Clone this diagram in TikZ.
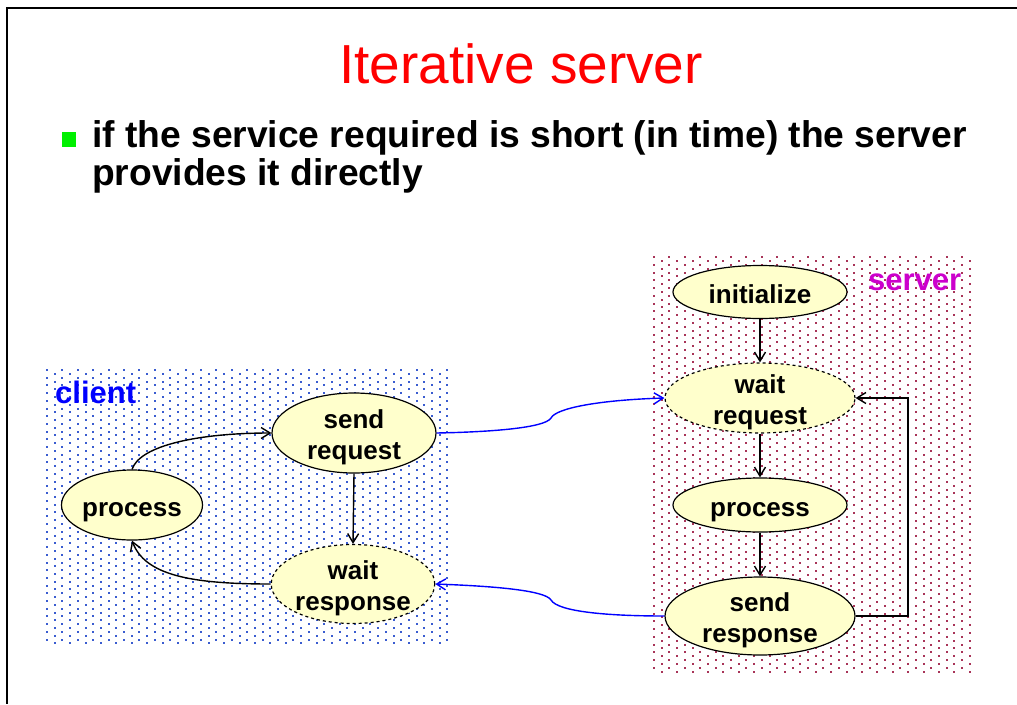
\documentclass[tikz,border=0pt]{standalone}
\usepackage{fontspec}
\setmainfont{Liberation Sans}
\usetikzlibrary{arrows.meta,shapes.geometric}
\definecolor{nodefill}{HTML}{FFFFCC}
\definecolor{clientdot}{HTML}{3A5CD0}
\definecolor{serverdot}{HTML}{A83458}
\definecolor{servertext}{HTML}{CC00CC}
\definecolor{bulletgreen}{HTML}{00F000}
% state label: centred lines, set a little low inside the ellipse;
% it reports no size, so each ellipse keeps exactly its minimum size
\newcommand{\statelabel}[1]{\raisebox{-11.5pt}[0pt][0pt]{%
  \begin{tabular}{@{}c@{}}#1\end{tabular}}}
\begin{document}
\begin{tikzpicture}[x=1pt,y=-1pt,
  state/.style={ellipse,draw=black,line width=1.2pt,fill=nodefill,inner sep=0pt,
    font=\fontsize{26}{31}\selectfont\bfseries},
  waitstate/.style={state,dashed},
  flow/.style={line width=1.4pt,-{Straight Barb[length=9pt,width=11pt]}},
  msg/.style={flow,draw=blue},
  tag/.style={font=\fontsize{31}{31}\selectfont\bfseries,anchor=base west,inner sep=0pt}]
\useasboundingbox (0,0) rectangle (1017,704);
% slide frame
\draw[line width=1.5pt] (1017,8) -- (7,8) -- (7,704);
% title and bullet
\node[anchor=base,text=red,font=\fontsize{55}{55}\selectfont,inner sep=0pt] (title) at (521,83) {Iterative server};
\fill[bulletgreen] (62,132) rectangle (76,147);
\node[anchor=base west,inner sep=0pt,align=left,font=\fontsize{37.2}{38}\selectfont\bfseries] (bullet) at (92,185)
  {if the service required is short (in time) the server\\provides it directly};
% dotted backgrounds (staggered dot lattice)
\foreach \i in {0,...,52}{\pgfmathsetmacro{\off}{mod(\i,2)*3.85}
  \foreach \j in {0,...,35}{
  \fill[clientdot] (46+\i*7.7,369+\off+\j*7.7) rectangle ++(2,2);}}
\foreach \i in {0,...,41}{\pgfmathsetmacro{\off}{mod(\i,2)*3.9}
  \foreach \j in {0,...,53}{
  \fill[serverdot] (653+\i*7.7,256+\off+\j*7.75) rectangle ++(2,2);}}
\node[tag,text=blue] (clientlbl) at (55,403) {client};
\node[tag,text=servertext] (serverlbl) at (868,290) {server};
% client states
\node[state,minimum width=139pt,minimum height=70pt] (cproc) at (132,505) {\statelabel{process}};
\node[state,minimum width=164pt,minimum height=80pt] (sreq) at (354,433) {\statelabel{send\\request}};
\node[waitstate,minimum width=155pt,minimum height=79pt] (wresp) at (353,584) {\statelabel{wait\\response}};
% server states
\node[state,minimum width=174pt,minimum height=53pt] (init) at (760,292) {\statelabel{initialize}};
\node[waitstate,minimum width=190pt,minimum height=70pt] (wreq) at (760,398) {\statelabel{wait\\request}};
\node[state,minimum width=174pt,minimum height=54pt] (sproc) at (760,505) {\statelabel{process}};
\node[state,minimum width=190pt,minimum height=78pt] (sresp) at (760,616) {\statelabel{send\\response}};
% client transitions
\draw[flow] (cproc.north) .. controls (140,445) and (200,433) .. (sreq.west);
\draw[flow] (sreq.south) -- (wresp.north);
\draw[flow] (wresp.west) .. controls (190,584) and (145,575) .. (cproc.south);
% server transitions
\draw[flow] (init) -- (wreq);
\draw[flow] (wreq) -- (sproc);
\draw[flow] (sproc) -- (sresp);
\coordinate (loopA) at (908,616);
\coordinate (loopB) at (908,398);
\draw[flow] (sresp.east) -- (loopA) -- (loopB) -- (wreq.east);
% messages between client and server
\coordinate (kinkA) at (551,418);
\coordinate (kinkB) at (551,600);
\draw[msg] (sreq.east) .. controls (490,432) and (545,428) .. (kinkA)
  .. controls (556,408) and (600,400) .. (wreq.west);
\draw[msg] (sresp.west) .. controls (610,616) and (558,612) .. (kinkB)
  .. controls (545,590) and (490,586) .. (wresp.east);
\end{tikzpicture}
\end{document}
